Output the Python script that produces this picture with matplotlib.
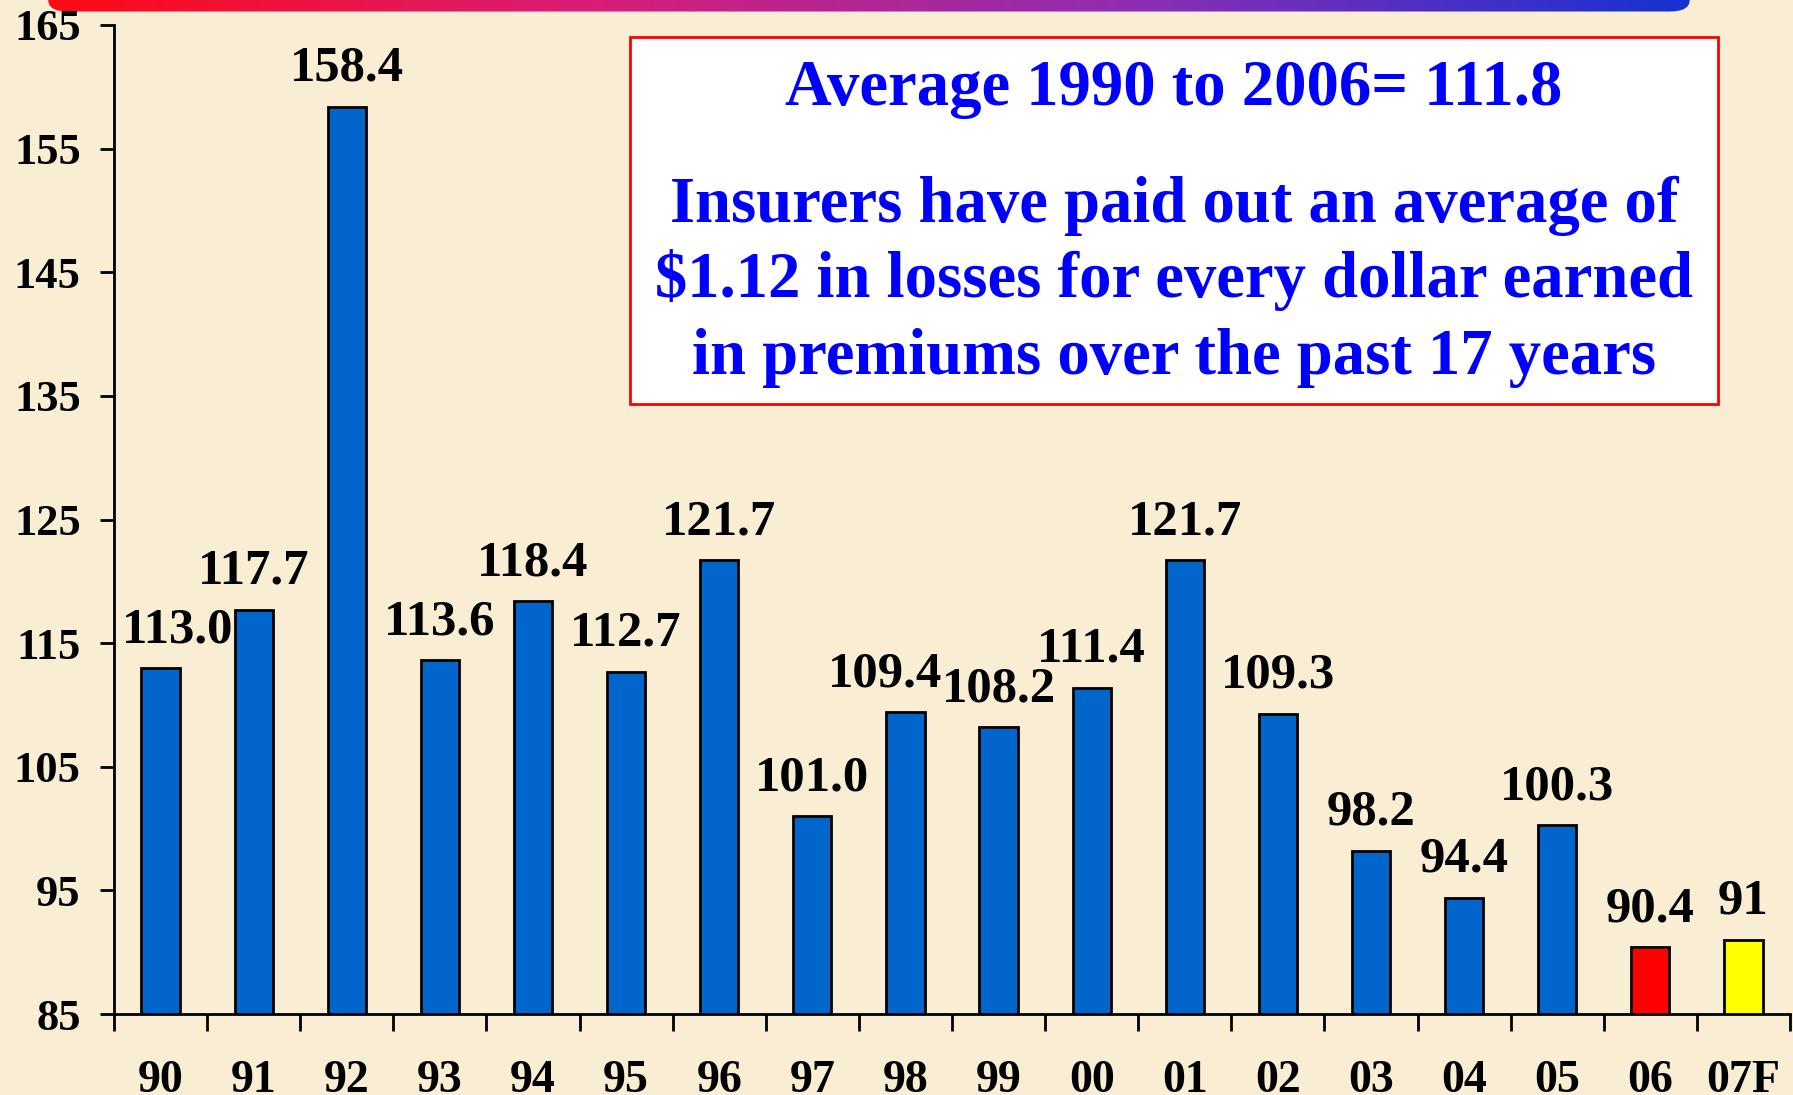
import numpy as np
import matplotlib.pyplot as plt
from matplotlib.patches import FancyBboxPatch
from matplotlib.colors import LinearSegmentedColormap

years = ["90", "91", "92", "93", "94", "95", "96", "97", "98", "99",
         "00", "01", "02", "03", "04", "05", "06", "07F"]
ratios = [113.0, 117.7, 158.4, 113.6, 118.4, 112.7, 121.7, 101.0, 109.4, 108.2,
          111.4, 121.7, 109.3, 98.2, 94.4, 100.3, 90.4, 91]
labels = ["113.0", "117.7", "158.4", "113.6", "118.4", "112.7", "121.7", "101.0", "109.4", "108.2",
          "111.4", "121.7", "109.3", "98.2", "94.4", "100.3", "90.4", "91"]
box_lines = ["Average 1990 to 2006= 111.8",
             "Insurers have paid out an average of",
             "$1.12 in losses for every dollar earned",
             "in premiums over the past 17 years"]

bg = "#f9eed3"
colors = ["#0066cc"] * 16 + ["#ff0000", "#ffff00"]
# small sideways nudges of a few labels, in category units
nudge = {0: 0.18, 8: -0.22}

plt.rcParams['font.family'] = ['Liberation Serif', 'DejaVu Serif']
plt.rcParams['font.weight'] = 'bold'

fig = plt.figure(figsize=(17.93, 10.95), dpi=100)
fig.patch.set_facecolor(bg)

# gradient strip at the top, rounded at the lower corners
gax = fig.add_axes([40/1793, 1-12/1095, (1698-40)/1793, 24/1095])
grad = np.linspace(0, 1, 256).reshape(1, -1)
cm = LinearSegmentedColormap.from_list("rb", ["#ff0a14", "#d81e78", "#8c2eb4", "#1432d2"])
im = gax.imshow(grad, aspect='auto', cmap=cm, extent=[0, 1, 0, 1])
clip = FancyBboxPatch((0.005, 0.02), 0.99, 0.96, boxstyle="round,pad=0,rounding_size=0.012",
                      transform=gax.transAxes, facecolor='none', edgecolor='none',
                      mutation_aspect=40)
gax.add_patch(clip)
im.set_clip_path(clip)
gax.axis('off')

ax = fig.add_axes([114/1793, 1-1014/1095, (1790-114)/1793, (1014-25)/1095])
ax.set_facecolor(bg)
x = np.arange(len(years))
ax.bar(x, np.array(ratios) - 85, bottom=85, width=0.41, color=colors,
       edgecolor="black", linewidth=2, zorder=3)
for i, (v, t) in enumerate(zip(ratios, labels)):
    ax.text(i + nudge.get(i, 0), v + 1.2, t, ha='center', va='bottom',
            fontsize=36.5, fontweight='bold', color='black')

ax.set_xlim(-0.5, len(years) - 0.5)
ax.set_ylim(85, 165)
ax.set_yticks(np.arange(85, 166, 10))
ax.set_yticklabels([str(v) for v in range(85, 166, 10)], fontsize=32, fontweight='bold')
ax.set_xticks(x)
ax.set_xticklabels(years, fontsize=33, fontweight='bold')
ax.set_xticks(np.arange(-0.5, len(years)), minor=True)
ax.tick_params(axis='x', which='major', length=0, pad=33)
ax.tick_params(axis='x', which='minor', length=12, width=2, direction='out')
ax.tick_params(axis='y', length=10, width=2, pad=14)
for s in ['top', 'right']:
    ax.spines[s].set_visible(False)
for s in ['left', 'bottom']:
    ax.spines[s].set_linewidth(2)
    ax.spines[s].set_clip_on(False)

# text box
box = plt.Rectangle((630/1793, 1-404/1095), (1718-630)/1793, (404-37)/1095,
                    transform=fig.transFigure, facecolor='white',
                    edgecolor='#ff0000', linewidth=2, zorder=5)
fig.patches.append(box)
ys = [89, 206, 280, 358]
for t, yy in zip(box_lines, ys):
    fig.text(1174/1793, 1-yy/1095, t, ha='center', va='center', fontsize=46.5,
             fontweight='bold', color='#0000ff', zorder=6)

fig.savefig("out.png", dpi=100, facecolor=bg)
